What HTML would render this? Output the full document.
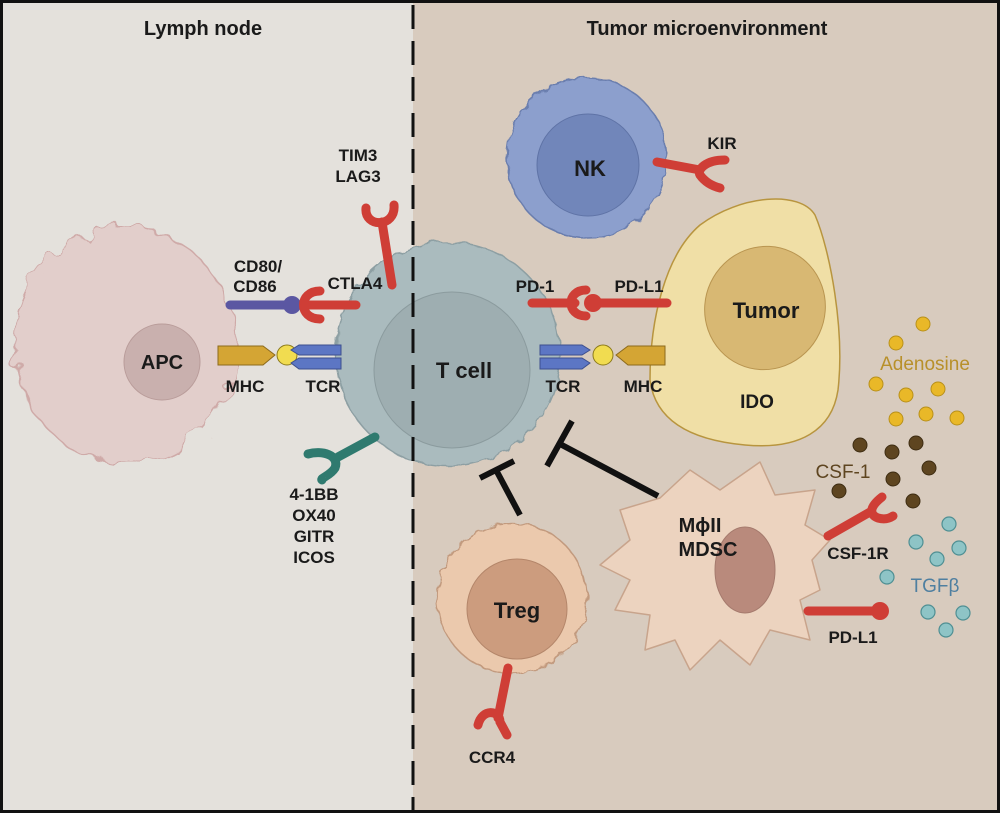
<!DOCTYPE html>
<html><head><meta charset="utf-8"><style>
html,body{margin:0;padding:0;background:#fff}
svg{display:block}
text{font-family:"Liberation Sans",Arial,sans-serif;font-weight:bold;fill:#1a1a1a}
</style></head><body>
<svg width="1000" height="813" viewBox="0 0 1000 813" xmlns="http://www.w3.org/2000/svg">
<defs>
<filter id="jag" x="-20%" y="-20%" width="140%" height="140%">
<feTurbulence type="fractalNoise" baseFrequency="0.08" numOctaves="2" seed="3"/>
<feDisplacementMap in="SourceGraphic" scale="8"/>
</filter>
<filter id="jag2" x="-20%" y="-20%" width="140%" height="140%">
<feTurbulence type="fractalNoise" baseFrequency="0.05" numOctaves="2" seed="7"/>
<feDisplacementMap in="SourceGraphic" scale="30"/>
</filter>
</defs>
<rect x="0" y="0" width="413" height="813" fill="#e4e1dc"/>
<rect x="413" y="0" width="587" height="813" fill="#d8cbbe"/>
<rect x="1.5" y="1.5" width="997" height="810" fill="none" stroke="#111" stroke-width="3"/>

<text x="203" y="35" font-size="20" text-anchor="middle">Lymph node</text>
<text x="707" y="35" font-size="20" text-anchor="middle">Tumor microenvironment</text>

<!-- APC -->
<g filter="url(#jag2)">
<ellipse cx="125" cy="345" rx="110" ry="118" fill="#e2cecb" stroke="#cfaaa8" stroke-width="1.5"/>
</g>
<circle cx="162" cy="362" r="38" fill="#c9b0ae" stroke="#b99c9a"/>
<text x="162" y="369" font-size="20" text-anchor="middle">APC</text>

<!-- T cell -->
<g filter="url(#jag)">
<circle cx="448" cy="354" r="112" fill="#aabbbe" stroke="#8d9fa3" stroke-width="1.5"/>
</g>
<circle cx="452" cy="370" r="78" fill="#9eaeb1" stroke="#8b9b9e"/>
<text x="464" y="378" font-size="22" text-anchor="middle">T cell</text>

<!-- NK -->
<g filter="url(#jag)">
<circle cx="587" cy="158" r="80" fill="#8c9fcd" stroke="#6b7eae" stroke-width="1.5"/>
</g>
<circle cx="588" cy="165" r="51" fill="#7186ba" stroke="#5f73a6"/>
<text x="590" y="176" font-size="22" text-anchor="middle">NK</text>

<!-- Tumor -->
<path d="M700,225 C740,195 800,190 815,215 C830,250 845,330 838,390 C832,430 800,450 745,445 C690,440 655,420 650,380 C650,320 665,255 700,225 Z" fill="#f0dfa6" stroke="#b8953f" stroke-width="1.5"/>
<ellipse cx="765" cy="308" rx="60" ry="62" transform="rotate(25 765 308)" fill="#d8b873" stroke="#b99550"/>
<text x="766" y="318" font-size="22" text-anchor="middle">Tumor</text>
<text x="757" y="408" font-size="19" text-anchor="middle">IDO</text>

<!-- Treg -->
<g filter="url(#jag)">
<circle cx="512" cy="598" r="75" fill="#ebc9ad" stroke="#c29a7e" stroke-width="1.5"/>
</g>
<circle cx="517" cy="609" r="50" fill="#cc9c7e" stroke="#b4866a"/>
<text x="517" y="618" font-size="22" text-anchor="middle">Treg</text>

<!-- MDSC -->
<path d="M620,510 L660,498 L690,470 L720,490 L760,462 L775,495 L815,490 L805,525 L830,540 L812,560 L820,590 L800,600 L810,640 L770,630 L750,665 L720,640 L690,670 L675,640 L645,650 L650,615 L615,610 L630,580 L600,565 L630,540 Z" fill="#ecd3bf" stroke="#c8a48c" stroke-width="1.5" stroke-linejoin="round"/>
<ellipse cx="745" cy="570" rx="30" ry="43" fill="#b98a7c" stroke="#a57a6d"/>
<text x="700" y="532" font-size="20" text-anchor="middle">MϕII</text>
<text x="708" y="556" font-size="20" text-anchor="middle">MDSC</text>

<!-- Inhibition bars -->
<g stroke="#111" stroke-width="6" stroke-linecap="butt">
<line x1="658" y1="496" x2="560" y2="444"/>
<line x1="547" y1="466" x2="572" y2="421"/>
<line x1="520" y1="515" x2="495" y2="468"/>
<line x1="480" y1="478" x2="514" y2="461"/>
</g>

<!-- CD80/86 + CTLA4 -->
<line x1="230" y1="305" x2="290" y2="305" stroke="#5b57a2" stroke-width="9" stroke-linecap="round"/>
<circle cx="292" cy="305" r="9" fill="#5b57a2"/>
<path d="M320,291 C298,291 298,319 320,319" fill="none" stroke="#cf3e36" stroke-width="9" stroke-linecap="round"/>
<line x1="305" y1="305" x2="356" y2="305" stroke="#cf3e36" stroke-width="9" stroke-linecap="round"/>
<text x="258" y="272" font-size="17" text-anchor="middle">CD80/</text>
<text x="255" y="292" font-size="17" text-anchor="middle">CD86</text>
<text x="355" y="289" font-size="17" text-anchor="middle">CTLA4</text>

<!-- TIM3/LAG3 -->
<line x1="382" y1="222" x2="392" y2="285" stroke="#cf3e36" stroke-width="9" stroke-linecap="round"/>
<path d="M366,208 C364,228 396,228 394,205" fill="none" stroke="#cf3e36" stroke-width="9" stroke-linecap="round"/>
<text x="358" y="161" font-size="17" text-anchor="middle">TIM3</text>
<text x="358" y="182" font-size="17" text-anchor="middle">LAG3</text>

<!-- 4-1BB -->
<line x1="375" y1="437" x2="338" y2="457" stroke="#2f7a6f" stroke-width="9" stroke-linecap="round"/>
<path d="M308,454 C322,450 340,455 335,468 C330,476 320,478 322,480" fill="none" stroke="#2f7a6f" stroke-width="9" stroke-linecap="round"/>
<text x="314" y="500" font-size="17" text-anchor="middle">4-1BB</text>
<text x="314" y="521" font-size="17" text-anchor="middle">OX40</text>
<text x="314" y="542" font-size="17" text-anchor="middle">GITR</text>
<text x="314" y="563" font-size="17" text-anchor="middle">ICOS</text>

<!-- left MHC/TCR -->
<path d="M218,346 L263,346 L275,355 L263,365 L218,365 Z" fill="#d4a534" stroke="#8c6a1c"/>
<circle cx="287" cy="355" r="10" fill="#f1dc50" stroke="#8c7a1c"/>
<path d="M341,345 L299,345 L291,350 L299,355 L341,355 Z" fill="#5c76c4" stroke="#3d4f8e"/>
<path d="M341,358 L299,358 L291,363 L299,369 L341,369 Z" fill="#5c76c4" stroke="#3d4f8e"/>
<text x="245" y="392" font-size="17" text-anchor="middle">MHC</text>
<text x="323" y="392" font-size="17" text-anchor="middle">TCR</text>

<!-- right TCR/MHC -->
<path d="M540,345 L582,345 L590,350 L582,355 L540,355 Z" fill="#5c76c4" stroke="#3d4f8e"/>
<path d="M540,358 L582,358 L590,363 L582,369 L540,369 Z" fill="#5c76c4" stroke="#3d4f8e"/>
<circle cx="603" cy="355" r="10" fill="#f1dc50" stroke="#8c7a1c"/>
<path d="M665,346 L628,346 L616,355 L628,365 L665,365 Z" fill="#d4a534" stroke="#8c6a1c"/>
<text x="563" y="392" font-size="17" text-anchor="middle">TCR</text>
<text x="643" y="392" font-size="17" text-anchor="middle">MHC</text>

<!-- PD-1 / PD-L1 -->
<line x1="532" y1="303" x2="575" y2="303" stroke="#cf3e36" stroke-width="9" stroke-linecap="round"/>
<path d="M586,290 C566,290 566,316 586,316" fill="none" stroke="#cf3e36" stroke-width="9" stroke-linecap="round"/>
<circle cx="593" cy="303" r="9" fill="#cf3e36"/>
<line x1="593" y1="303" x2="667" y2="303" stroke="#cf3e36" stroke-width="9" stroke-linecap="round"/>
<text x="535" y="292" font-size="17" text-anchor="middle">PD-1</text>
<text x="639" y="292" font-size="17" text-anchor="middle">PD-L1</text>

<!-- KIR -->
<line x1="657" y1="162" x2="700" y2="170" stroke="#cf3e36" stroke-width="9" stroke-linecap="round"/>
<path d="M725,160 C705,160 697,170 700,175 C705,182 712,186 720,188" fill="none" stroke="#cf3e36" stroke-width="9" stroke-linecap="round"/>
<text x="722" y="149" font-size="17" text-anchor="middle">KIR</text>

<!-- CCR4 -->
<line x1="508" y1="668" x2="498" y2="718" stroke="#cf3e36" stroke-width="9" stroke-linecap="round"/>
<path d="M478,725 C482,708 500,710 500,722 L507,735" fill="none" stroke="#cf3e36" stroke-width="9" stroke-linecap="round"/>
<text x="492" y="763" font-size="17" text-anchor="middle">CCR4</text>

<!-- CSF-1R -->
<line x1="828" y1="536" x2="870" y2="512" stroke="#cf3e36" stroke-width="9" stroke-linecap="round"/>
<path d="M882,497 C868,508 870,515 878,518 C885,520 890,518 893,516" fill="none" stroke="#cf3e36" stroke-width="9" stroke-linecap="round"/>
<text x="858" y="559" font-size="17" text-anchor="middle">CSF-1R</text>

<!-- MDSC PD-L1 -->
<line x1="808" y1="611" x2="875" y2="611" stroke="#cf3e36" stroke-width="9" stroke-linecap="round"/>
<circle cx="880" cy="611" r="9" fill="#cf3e36"/>
<text x="853" y="643" font-size="17" text-anchor="middle">PD-L1</text>

<!-- Adenosine -->
<g fill="#e9b828" stroke="#b8901a" stroke-width="1">
<circle cx="923" cy="324" r="7"/><circle cx="896" cy="343" r="7"/>
<circle cx="876" cy="384" r="7"/><circle cx="906" cy="395" r="7"/><circle cx="938" cy="389" r="7"/>
<circle cx="896" cy="419" r="7"/><circle cx="926" cy="414" r="7"/><circle cx="957" cy="418" r="7"/>
</g>
<text x="925" y="370" font-size="19" font-weight="normal" text-anchor="middle" style="fill:#b8902a;font-weight:normal">Adenosine</text>

<!-- CSF-1 -->
<g fill="#5e4520" stroke="#3d2c12" stroke-width="1">
<circle cx="860" cy="445" r="7"/><circle cx="892" cy="452" r="7"/><circle cx="916" cy="443" r="7"/>
<circle cx="929" cy="468" r="7"/><circle cx="893" cy="479" r="7"/><circle cx="839" cy="491" r="7"/>
<circle cx="913" cy="501" r="7"/>
</g>
<text x="843" y="478" font-size="19" text-anchor="middle" style="fill:#5e4520;font-weight:normal">CSF-1</text>

<!-- TGFb -->
<g fill="#8ec4c6" stroke="#4f8f93" stroke-width="1.2">
<circle cx="949" cy="524" r="7"/><circle cx="916" cy="542" r="7"/><circle cx="959" cy="548" r="7"/>
<circle cx="937" cy="559" r="7"/><circle cx="887" cy="577" r="7"/><circle cx="928" cy="612" r="7"/>
<circle cx="963" cy="613" r="7"/><circle cx="946" cy="630" r="7"/>
</g>
<text x="935" y="592" font-size="19" text-anchor="middle" style="fill:#4f7fa0;font-weight:normal">TGFβ</text>

<!-- dashed divider -->
<line x1="413" y1="5" x2="413" y2="810" stroke="#111" stroke-width="3" stroke-dasharray="24,12"/>
</svg>
</body></html>
